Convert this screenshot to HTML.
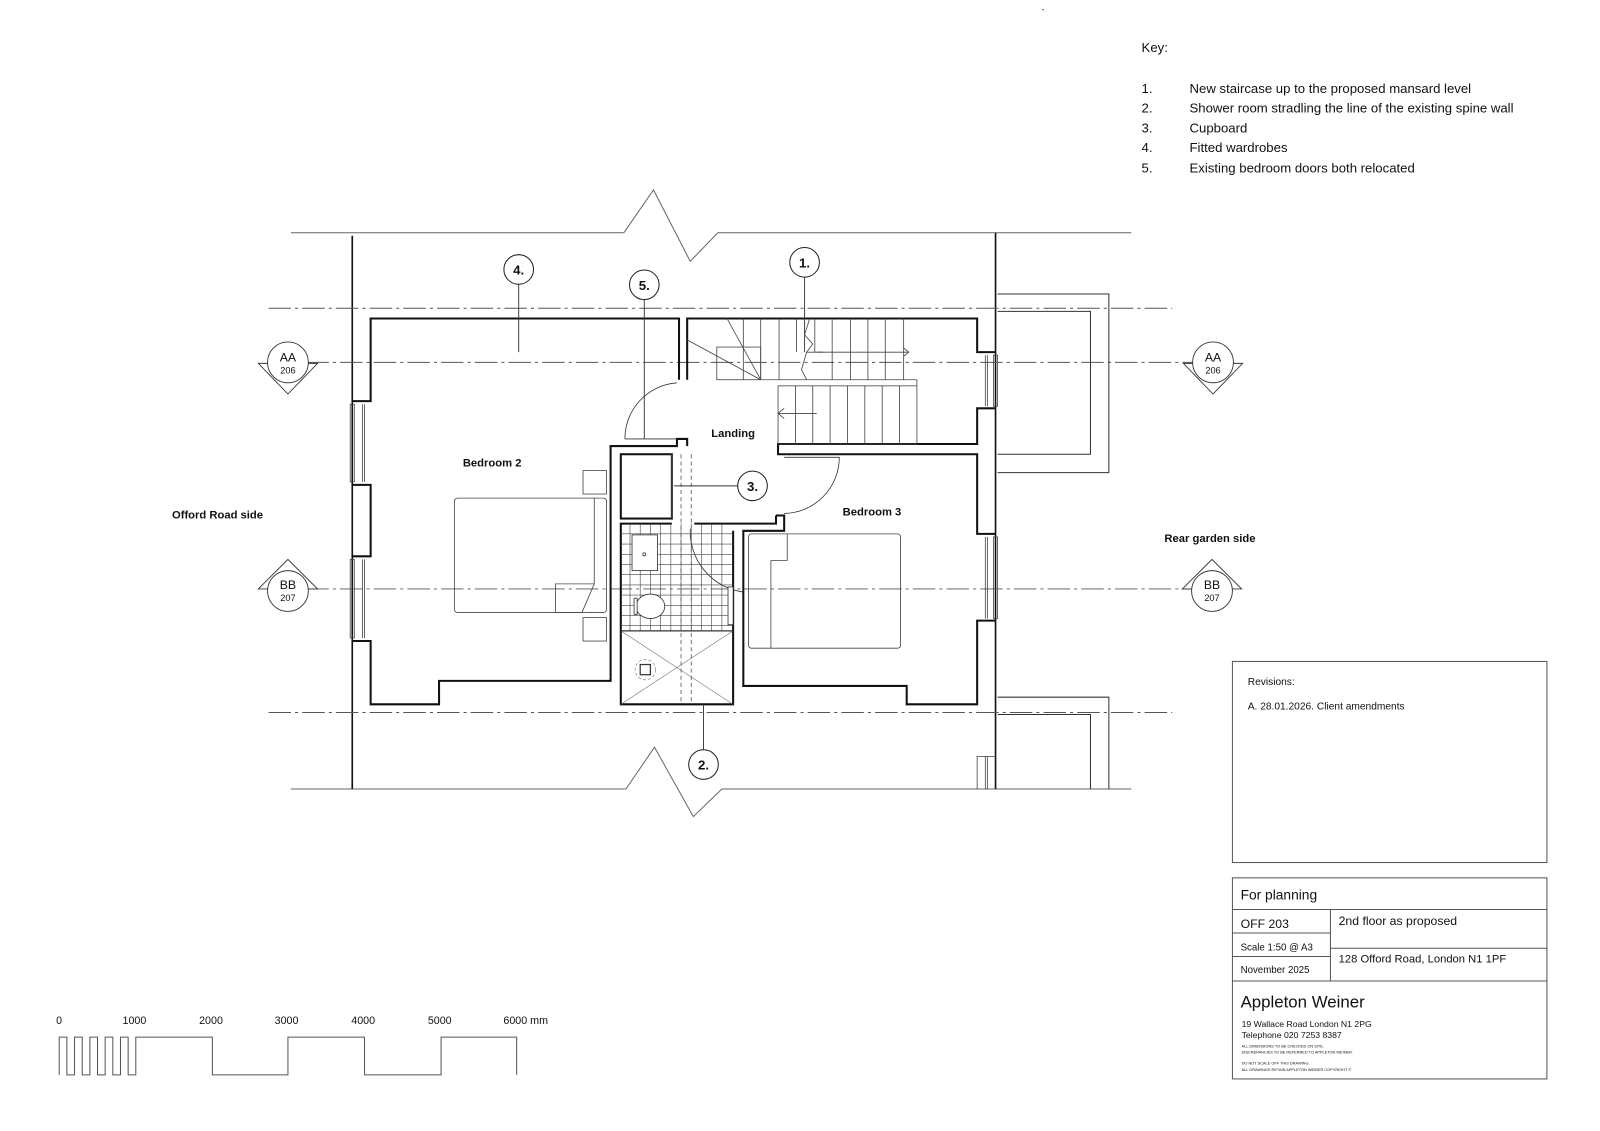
<!DOCTYPE html>
<html><head><meta charset="utf-8"><style>
html,body{margin:0;padding:0;background:#fff;}
svg{display:block;}
text{font-family:"Liberation Sans",Arial,sans-serif;fill:#111;}
</style></head><body>
<svg width="1600" height="1131" viewBox="0 0 1567 1108" preserveAspectRatio="none" xmlns="http://www.w3.org/2000/svg">
<rect width="1567" height="1108" fill="#fff"/>
<!-- Key -->
<g font-size="12.9">
<text x="1118" y="51">Key:</text>
<text x="1118" y="91">1.</text><text x="1165" y="91">New staircase up to the proposed mansard level</text>
<text x="1118" y="110">2.</text><text x="1165" y="110">Shower room stradling the line of the existing spine wall</text>
<text x="1118" y="130">3.</text><text x="1165" y="130">Cupboard</text>
<text x="1118" y="149">4.</text><text x="1165" y="149">Fitted wardrobes</text>
<text x="1118" y="169">5.</text><text x="1165" y="169">Existing bedroom doors both relocated</text>
</g>
<!-- boundary lines -->
<g fill="none" stroke="#666" stroke-width="1">
<polyline points="285,228 611,228 640,186 676,256 703,228 1108,228"/>
<polyline points="285,773 613,773 641,732 679,800 707,773 1108,773"/>
</g>
<g stroke="#111" stroke-width="1.6">
<line x1="345" y1="231" x2="345" y2="773"/>
<line x1="975" y1="228" x2="975" y2="773"/>
</g>
<!-- dash dot lines -->
<g stroke="#555" stroke-width="0.9" stroke-dasharray="22,4,3,4" fill="none">
<line x1="263" y1="302" x2="1148" y2="302"/>
<line x1="263" y1="698" x2="1148" y2="698"/>
<line x1="300" y1="355" x2="1170" y2="355"/>
<line x1="300" y1="577" x2="1170" y2="577"/>
</g>
<!-- section markers -->
<g fill="#fff" stroke="#333" stroke-width="0.9">
<polygon points="253,356 311,356 282,386"/>
<circle cx="282" cy="355" r="20"/>
<polygon points="1159,356 1217,356 1188,386"/>
<circle cx="1188" cy="355" r="20"/>
<polygon points="253,577 311,577 282,548"/>
<circle cx="282" cy="579" r="20"/>
<polygon points="1158,577 1216,577 1187,548"/>
<circle cx="1187" cy="579" r="20"/>
</g>
<g text-anchor="middle">
<text x="282" y="354" font-size="12">AA</text><text x="282" y="366" font-size="9">206</text>
<text x="1188" y="354" font-size="12">AA</text><text x="1188" y="366" font-size="9">206</text>
<text x="282" y="577" font-size="12">BB</text><text x="282" y="589" font-size="9">207</text>
<text x="1187" y="577" font-size="12">BB</text><text x="1187" y="589" font-size="9">207</text>
</g>
<!-- outbuildings right -->
<g fill="none" stroke="#333" stroke-width="1">
<polyline points="977,288 1086,288 1086,463 977,463"/>
<polyline points="977,305 1068,305 1068,445 977,445"/>
<polyline points="977,683 1086,683 1086,773"/>
<polyline points="977,700 1068,700 1068,773"/>
</g>
<!-- walls -->
<g fill="none" stroke="#111" stroke-width="2">
<polyline points="345,393 363,393 363,312 665,312 665,372"/>
<polyline points="345,475 363,475 363,545 345,545"/>
<polyline points="345,628 363,628 363,690 430,690 430,667 598,667 598,437 663,437 663,430 673,430 673,437"/>
<polyline points="673,372 673,312 957,312 957,345 975,345"/>
<polyline points="975,400 957,400 957,435 762,435 762,445 770,445"/>
<polyline points="770,445 957,445 957,523 975,523"/>
<polyline points="975,608 957,608 957,690 888,690 888,672 728,672 728,520 768,520 768,505 760,505"/>
<rect x="608" y="445" width="50" height="63"/>
<polyline points="718,520 718,690 608,690 608,513 658,513"/>
<polyline points="680,513 760,513 760,505"/>
</g>
<!-- windows -->
<g fill="none" stroke="#444" stroke-width="0.8">
<rect x="343" y="396" width="4" height="76"/><line x1="355" y1="396" x2="355" y2="472"/><line x1="357" y1="396" x2="357" y2="472"/>
<rect x="343" y="548" width="4" height="77"/><line x1="355" y1="548" x2="355" y2="625"/><line x1="357" y1="548" x2="357" y2="625"/>
<rect x="973" y="348" width="4" height="50"/><line x1="965" y1="348" x2="965" y2="398"/><line x1="967" y1="348" x2="967" y2="398"/>
<rect x="973" y="526" width="4" height="80"/><line x1="965" y1="526" x2="965" y2="606"/><line x1="967" y1="526" x2="967" y2="606"/>
<polyline points="957,773 957,741 975,741"/><line x1="965" y1="741" x2="965" y2="773"/><line x1="967" y1="741" x2="967" y2="773"/>
</g>
<!-- stairs -->
<g fill="none" stroke="#444" stroke-width="0.8">
<line x1="712" y1="312" x2="745" y2="372"/>
<line x1="673" y1="333" x2="745" y2="372"/>
<rect x="702" y="340" width="43" height="32"/>
<line x1="745" y1="372" x2="898" y2="372"/>
<line x1="898" y1="372" x2="898" y2="378"/>
<rect x="762" y="378" width="136" height="57"/>
<g>
<line x1="745" y1="312" x2="745" y2="372"/><line x1="763" y1="312" x2="763" y2="372"/><line x1="780" y1="312" x2="780" y2="345"/>
<line x1="798" y1="312" x2="798" y2="345"/><line x1="815" y1="312" x2="815" y2="372"/><line x1="833" y1="312" x2="833" y2="372"/>
<line x1="850" y1="312" x2="850" y2="372"/><line x1="867" y1="312" x2="867" y2="372"/><line x1="885" y1="312" x2="885" y2="372"/>
<line x1="728" y1="312" x2="728" y2="372"/>
<line x1="779" y1="378" x2="779" y2="435"/><line x1="796" y1="378" x2="796" y2="435"/><line x1="813" y1="378" x2="813" y2="435"/>
<line x1="830" y1="378" x2="830" y2="435"/><line x1="847" y1="378" x2="847" y2="435"/><line x1="864" y1="378" x2="864" y2="435"/><line x1="881" y1="378" x2="881" y2="435"/>
</g>
<polyline points="793,312 788,328 796,337 790,345 806,345"/>
<polyline points="790,345 785,362 790,372"/>
<line x1="800" y1="345" x2="890" y2="345"/>
<polyline points="885,341 890,345 885,349"/>
<line x1="762" y1="405" x2="800" y2="405"/>
<polyline points="768,400 762,405 768,410"/>
</g>
<!-- doors -->
<g fill="none" stroke="#333" stroke-width="0.8">
<path d="M663,375 A55,55 0 0 0 612,430"/>
<line x1="612" y1="430" x2="663" y2="430"/>
<path d="M768,448 L822,448 A55,55 0 0 1 768,503"/>
<path d="M676,518 A60,60 0 0 0 728,580"/>
</g>
<!-- shower room tiles -->
<g stroke="#444" stroke-width="0.6">
<path d="M608,523H718M608,533H718M608,543H718M608,553H718M608,563H718M608,573H718M608,583H718M608,593H718M608,603H718M608,613H718M608,618H718"/>
<path d="M617,513V618M627,513V618M637,513V618M647,513V618M657,513V618M667,513V618M677,513V618M687,513V618M697,513V618M707,513V618"/>
</g>
<g fill="#fff" stroke="#333" stroke-width="0.8">
<rect x="619" y="524" width="25" height="35"/>
<circle cx="631" cy="543" r="1.5"/>
<ellipse cx="637" cy="594" rx="14" ry="12"/>
<rect x="621" y="586" width="3" height="16"/>
<rect x="713" y="575" width="5" height="37"/>
</g>
<g stroke="#777" stroke-width="0.6" fill="none">
<line x1="608" y1="690" x2="718" y2="618"/><line x1="608" y1="618" x2="718" y2="690"/>
<line x1="608" y1="618" x2="718" y2="618" stroke="#333" stroke-width="1.2"/>
<circle cx="632" cy="656" r="10" stroke-dasharray="3,2" fill="#fff"/>
<rect x="627" y="651" width="10" height="10" stroke="#333" stroke-width="1.2"/>
</g>
<!-- spine wall dashed -->
<g stroke="#555" stroke-width="0.8" stroke-dasharray="4,3">
<line x1="667" y1="445" x2="667" y2="690"/><line x1="677" y1="445" x2="677" y2="690"/>
</g>
<line x1="658" y1="445" x2="658" y2="508" stroke="#555" stroke-width="0.8"/>
<!-- beds -->
<g fill="none" stroke="#444" stroke-width="0.8">
<rect x="445" y="488" width="149" height="112" rx="3"/>
<polyline points="582,488 582,572 570,600 544,600 544,572 582,572"/>
<rect x="571" y="461" width="23" height="23"/>
<rect x="571" y="605" width="23" height="23"/>
<rect x="733" y="523" width="149" height="112" rx="3"/>
<polyline points="771,523 771,549 755,549"/>
<line x1="755" y1="549" x2="755" y2="635"/>
</g>
<!-- callouts -->
<g stroke="#333" stroke-width="0.9" fill="none">
<line x1="508" y1="278" x2="508" y2="345"/>
<line x1="631" y1="293" x2="631" y2="430"/>
<line x1="788" y1="271" x2="788" y2="345"/>
<line x1="723" y1="476" x2="660" y2="476"/>
<line x1="689" y1="735" x2="689" y2="690"/>
</g>
<g fill="#fff" stroke="#222" stroke-width="1">
<circle cx="508" cy="264" r="14.5"/><circle cx="631" cy="279" r="14.5"/><circle cx="788" cy="257" r="14.5"/>
<circle cx="737" cy="476" r="14.5"/><circle cx="689" cy="749" r="14.5"/>
</g>
<g font-size="13" font-weight="bold" text-anchor="middle">
<text x="508" y="269">4.</text><text x="631" y="284">5.</text><text x="788" y="262">1.</text>
<text x="737" y="481">3.</text><text x="689" y="754">2.</text>
</g>
<!-- room labels -->
<g font-size="11" font-weight="bold" text-anchor="middle">
<text x="482" y="457">Bedroom 2</text>
<text x="718" y="428">Landing</text>
<text x="854" y="505">Bedroom 3</text>
<text x="213" y="508">Offord Road side</text>
<text x="1185" y="531">Rear garden side</text>
</g>
<!-- Revisions box -->
<rect x="1207" y="648" width="308" height="197" fill="none" stroke="#555" stroke-width="1"/>
<text x="1222" y="671" font-size="10">Revisions:</text>
<text x="1222" y="695" font-size="10">A. 28.01.2026. Client amendments</text>
<!-- Title block -->
<g fill="none" stroke="#555" stroke-width="1">
<rect x="1207" y="860" width="308" height="197"/>
<line x1="1207" y1="891" x2="1515" y2="891"/>
<line x1="1207" y1="961" x2="1515" y2="961"/>
<line x1="1303" y1="891" x2="1303" y2="961"/>
<line x1="1207" y1="914" x2="1303" y2="914"/>
<line x1="1207" y1="937" x2="1303" y2="937"/>
<line x1="1303" y1="929" x2="1515" y2="929"/>
</g>
<text x="1215" y="881" font-size="13.5">For planning</text>
<text x="1215" y="909" font-size="12">OFF 203</text>
<text x="1215" y="931" font-size="9.5">Scale 1:50 @ A3</text>
<text x="1215" y="953" font-size="9.5">November 2025</text>
<text x="1311" y="906" font-size="12">2nd floor as proposed</text>
<text x="1311" y="943" font-size="11" fill="#555">128 Offord Road, London N1 1PF</text>
<text x="1215" y="987" font-size="16.5">Appleton Weiner</text>
<text x="1216" y="1006" font-size="8.5">19 Wallace Road  London N1 2PG</text>
<text x="1216" y="1017" font-size="8.5">Telephone 020 7253 8387</text>
<g font-size="3.8">
<text x="1216" y="1026">ALL DIMENSIONS TO BE CHECKED ON SITE.</text>
<text x="1216" y="1032">DISCREPANCIES TO BE REFERRED TO APPLETON WEINER.</text>
<text x="1216" y="1043">DO NOT SCALE OFF THIS DRAWING.</text>
<text x="1216" y="1049">ALL DRAWINGS RETAIN APPLETON WEINER COPYRIGHT ©</text>
</g>
<!-- Scale bar -->
<g font-size="10.5">
<text x="55" y="1003">0</text><text x="120" y="1003">1000</text><text x="195" y="1003">2000</text>
<text x="269" y="1003">3000</text><text x="344" y="1003">4000</text><text x="419" y="1003">5000</text><text x="493" y="1003">6000 mm</text>
</g>
<path d="M58,1053V1016H65.5V1053H73V1016H80.5V1053H88V1016H95.5V1053H103V1016H110.5V1053H118V1016H125.5V1053H133V1016H208V1053H282V1016H357V1053H432V1016H506V1053" fill="none" stroke="#555" stroke-width="1"/>
<text x="1020" y="16" font-size="10">`</text>
</svg>
</body></html>
